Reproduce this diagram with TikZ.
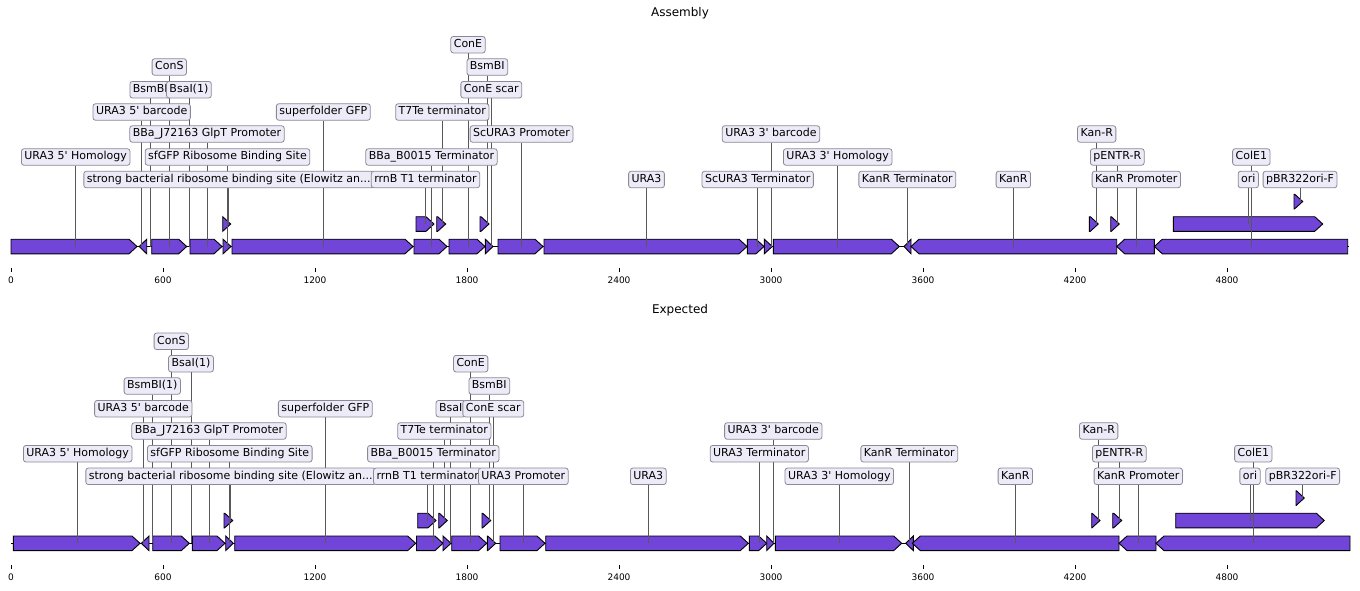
\documentclass[tikz,border=0pt]{standalone}
\usepackage{fontspec}
\setmainfont{DejaVu Sans}
\usepackage{tikz}

\definecolor{partfill}{RGB}{112,69,216}
\definecolor{boxfill}{RGB}{238,235,248}
\definecolor{boxline}{RGB}{138,138,150}
\definecolor{leadgray}{RGB}{88,88,88}

\pgfdeclarelayer{parts}
\pgfdeclarelayer{leads}
\pgfsetlayers{parts,leads,main}

% forward / reverse part: start, end, row
\newcommand{\fwdpart}[3]{%
  \pgfmathsetmacro{\headx}{max(#1,#2-8)}%
  \begin{pgfonlayer}{parts}
    \draw[part] (#1,#3-7.3) -- (\headx,#3-7.3) -- (#2,#3) -- (\headx,#3+7.3) -- (#1,#3+7.3) -- cycle;
  \end{pgfonlayer}}
\newcommand{\revpart}[3]{%
  \pgfmathsetmacro{\headx}{min(#2,#1+8)}%
  \begin{pgfonlayer}{parts}
    \draw[part] (#2,#3-7.3) -- (\headx,#3-7.3) -- (#1,#3) -- (\headx,#3+7.3) -- (#2,#3+7.3) -- cycle;
  \end{pgfonlayer}}
% label: name, x, label row, part row, text
\newcommand{\partlabel}[5]{%
  \coordinate (#1-f) at (#2,#4);
  \node[lbl] (#1) at (#2,#3) {#5};
  \begin{pgfonlayer}{leads}
    \draw[lead] (#1) -- (#1-f);
  \end{pgfonlayer}}
\newcommand{\q}{\textquotesingle}

\begin{document}
\begin{tikzpicture}[x=1pt, y=-1pt,
  part/.style={draw=black, fill=partfill, line width=0.9pt},
  lbl/.style={draw=boxline, fill=boxfill, rounded corners=2.5pt, line width=0.8pt,
              inner xsep=3pt, inner ysep=0pt, text height=8.2pt, text depth=2.4pt,
              minimum height=16.5pt, font=\fontsize{11}{13}\selectfont},
  lead/.style={draw=leadgray, line width=0.7pt},
  backbone/.style={line width=1pt},
  tick/.style={line width=0.8pt},
  ticklbl/.style={font=\fontsize{9}{10}\selectfont},
  ttl/.style={font=\fontsize{12}{14}\selectfont}
]
  \useasboundingbox (0,0) rectangle (1360,590);
  \begin{pgfonlayer}{parts}
    \fill[white] (0,0) rectangle (1360,590);
  \end{pgfonlayer}

  % Assembly
  \node[ttl] (asm-title) at (680,13) {Assembly};
  \begin{pgfonlayer}{parts}
    \draw[backbone] (11,246.5) -- (1349,246.5);
  \end{pgfonlayer}
  \fwdpart{11}{137}{246.5}
  \revpart{139.3}{146.7}{246.5}
  \fwdpart{151.7}{186.7}{246.5}
  \fwdpart{190}{222}{246.5}
  \fwdpart{223}{231}{246.5}
  \fwdpart{232}{413}{246.5}
  \fwdpart{414}{447}{246.5}
  \fwdpart{449}{485}{246.5}
  \fwdpart{485.3}{493}{246.5}
  \fwdpart{498}{543}{246.5}
  \fwdpart{544}{747}{246.5}
  \fwdpart{747.3}{764}{246.5}
  \fwdpart{764.3}{772.3}{246.5}
  \fwdpart{773.3}{899.3}{246.5}
  \revpart{904}{911}{246.5}
  \revpart{911}{1116.7}{246.5}
  \revpart{1116.7}{1154.3}{246.5}
  \revpart{1154.3}{1347.7}{246.5}
  \fwdpart{222.7}{230.7}{224}
  \fwdpart{416}{434}{224}
  \fwdpart{436.7}{445.7}{224}
  \fwdpart{480}{489}{224}
  \fwdpart{1089.3}{1098.3}{224}
  \fwdpart{1110.7}{1119.3}{224}
  \fwdpart{1173.3}{1322.7}{224}
  \fwdpart{1294}{1302.7}{201.5}

  \partlabel{a-hom5}{75.7}{157}{246.5}{URA3 5\q{} Homology}
  \partlabel{a-bc5}{141.7}{112}{246.5}{URA3 5\q{} barcode}
  \partlabel{a-bsmb1}{150.3}{89.7}{246.5}{BsmBI}
  \partlabel{a-cons}{169.3}{67}{246.5}{ConS}
  \partlabel{a-bsai}{188.9}{89.7}{246.5}{BsaI(1)}
  \partlabel{a-glpt}{207}{134}{246.5}{BBa\_J72163 GlpT Promoter}
  \partlabel{a-sfrbs}{227.5}{157}{246.5}{sfGFP Ribosome Binding Site}
  \partlabel{a-rbs}{228.7}{179.5}{224}{strong bacterial ribosome binding site (Elowitz an...}
  \partlabel{a-sfgfp}{323.3}{112}{246.5}{superfolder GFP}
  \partlabel{a-rrnb}{425.5}{179.5}{224}{rrnB T1 terminator}
  \partlabel{a-b0015}{431.5}{157}{246.5}{BBa\_B0015 Terminator}
  \partlabel{a-t7te}{442.3}{112}{224}{T7Te terminator}
  \partlabel{a-cone}{468}{44.7}{246.5}{ConE}
  \partlabel{a-bsmb2}{487.3}{67}{224}{BsmBI}
  \partlabel{a-scar}{491.3}{89.7}{246.5}{ConE scar}
  \partlabel{a-ura3p}{521.5}{134}{246.5}{ScURA3 Promoter}
  \partlabel{a-ura3}{646.5}{179.5}{246.5}{URA3}
  \partlabel{a-ura3t}{757.7}{179.5}{246.5}{ScURA3 Terminator}
  \partlabel{a-bc3}{771}{134}{246.5}{URA3 3\q{} barcode}
  \partlabel{a-hom3}{837.7}{157}{246.5}{URA3 3\q{} Homology}
  \partlabel{a-kant}{907.3}{179.5}{246.5}{KanR Terminator}
  \partlabel{a-kanr}{1013.3}{179.5}{246.5}{KanR}
  \partlabel{a-kanrp}{1096.7}{134}{224}{Kan-R}
  \partlabel{a-pentr}{1117.3}{157}{224}{pENTR-R}
  \partlabel{a-kanp}{1136.3}{179.5}{246.5}{KanR Promoter}
  \partlabel{a-ori}{1248.3}{179.5}{224}{ori}
  \partlabel{a-cole1}{1251.3}{157}{246.5}{ColE1}
  \partlabel{a-pbr}{1300}{179.5}{201.5}{pBR322ori-F}

  \foreach \v/\px in {0/11,600/163,1200/315,1800/467,2400/619,3000/771,3600/923,4200/1075,4800/1227} {
    \draw[tick] (\px,267.5) -- (\px,271.5);
    \node[ticklbl] (a-t\v) at (\px,280.5) {\v};
  }

  % Expected
  \node[ttl] (exp-title) at (680,310) {Expected};
  \begin{pgfonlayer}{parts}
    \draw[backbone] (11.3,543.3) -- (1350,543.3);
  \end{pgfonlayer}
  \fwdpart{13.3}{140}{543.3}
  \revpart{141.3}{149}{543.3}
  \fwdpart{152.7}{189.3}{543.3}
  \fwdpart{192.3}{225}{543.3}
  \fwdpart{225.7}{233.3}{543.3}
  \fwdpart{234.7}{415.7}{543.3}
  \fwdpart{416.5}{443}{543.3}
  \fwdpart{443}{451}{543.3}
  \fwdpart{451.7}{486.7}{543.3}
  \fwdpart{487.3}{495.7}{543.3}
  \fwdpart{500}{545}{543.3}
  \fwdpart{545.7}{748.3}{543.3}
  \fwdpart{749.3}{766.7}{543.3}
  \fwdpart{766.7}{774}{543.3}
  \fwdpart{775.3}{901.7}{543.3}
  \revpart{905.7}{913.3}{543.3}
  \revpart{912.3}{1119}{543.3}
  \revpart{1119}{1156}{543.3}
  \revpart{1156}{1350}{543.3}
  \fwdpart{224}{232.7}{520.5}
  \fwdpart{417.7}{436}{520.5}
  \fwdpart{438.7}{447.3}{520.5}
  \fwdpart{482}{490.7}{520.5}
  \fwdpart{1091.7}{1100}{520.5}
  \fwdpart{1112.7}{1121.7}{520.5}
  \fwdpart{1175.7}{1324.3}{520.5}
  \fwdpart{1296}{1304.3}{498}

  \partlabel{e-hom5}{77.7}{453.7}{543.3}{URA3 5\q{} Homology}
  \partlabel{e-bc5}{143.3}{408.7}{543.3}{URA3 5\q{} barcode}
  \partlabel{e-bsmb1}{152.3}{386}{543.3}{BsmBI(1)}
  \partlabel{e-cons}{171.3}{341.3}{543.3}{ConS}
  \partlabel{e-bsai}{191}{363.7}{543.3}{BsaI(1)}
  \partlabel{e-glpt}{209}{431}{543.3}{BBa\_J72163 GlpT Promoter}
  \partlabel{e-sfrbs}{229.8}{453.7}{543.3}{sfGFP Ribosome Binding Site}
  \partlabel{e-rbs}{230.7}{476.3}{520.5}{strong bacterial ribosome binding site (Elowitz an...}
  \partlabel{e-sfgfp}{325.3}{408.7}{543.3}{superfolder GFP}
  \partlabel{e-rrnb}{427.7}{476.3}{520.5}{rrnB T1 terminator}
  \partlabel{e-b0015}{433.3}{453.7}{543.3}{BBa\_B0015 Terminator}
  \partlabel{e-t7te}{444.3}{431}{520.5}{T7Te terminator}
  \partlabel{e-bsai2}{450.7}{408.7}{543.3}{BsaI}
  \partlabel{e-cone}{470.7}{363.7}{543.3}{ConE}
  \partlabel{e-bsmb2}{489.3}{386}{520.5}{BsmBI}
  \partlabel{e-scar}{493.3}{408.7}{543.3}{ConE scar}
  \partlabel{e-ura3p}{523.3}{476.3}{543.3}{URA3 Promoter}
  \partlabel{e-ura3}{648.3}{476.3}{543.3}{URA3}
  \partlabel{e-ura3t}{759.3}{453.7}{543.3}{URA3 Terminator}
  \partlabel{e-bc3}{773.3}{431}{543.3}{URA3 3\q{} barcode}
  \partlabel{e-hom3}{839.3}{476.3}{543.3}{URA3 3\q{} Homology}
  \partlabel{e-kant}{909.3}{453.7}{543.3}{KanR Terminator}
  \partlabel{e-kanr}{1015.3}{476.3}{543.3}{KanR}
  \partlabel{e-kanrp}{1098.7}{431}{520.5}{Kan-R}
  \partlabel{e-pentr}{1119.3}{453.7}{520.5}{pENTR-R}
  \partlabel{e-kanp}{1138.3}{476.3}{543.3}{KanR Promoter}
  \partlabel{e-ori}{1250}{476.3}{520.5}{ori}
  \partlabel{e-cole1}{1253.3}{453.7}{543.3}{ColE1}
  \partlabel{e-pbr}{1302.7}{476.3}{498}{pBR322ori-F}

  \foreach \v/\px in {0/11,600/163,1200/315,1800/467,2400/619,3000/771,3600/923,4200/1075,4800/1227} {
    \draw[tick] (\px,564.5) -- (\px,568.5);
    \node[ticklbl] (e-t\v) at (\px,577.5) {\v};
  }
\end{tikzpicture}
\end{document}
